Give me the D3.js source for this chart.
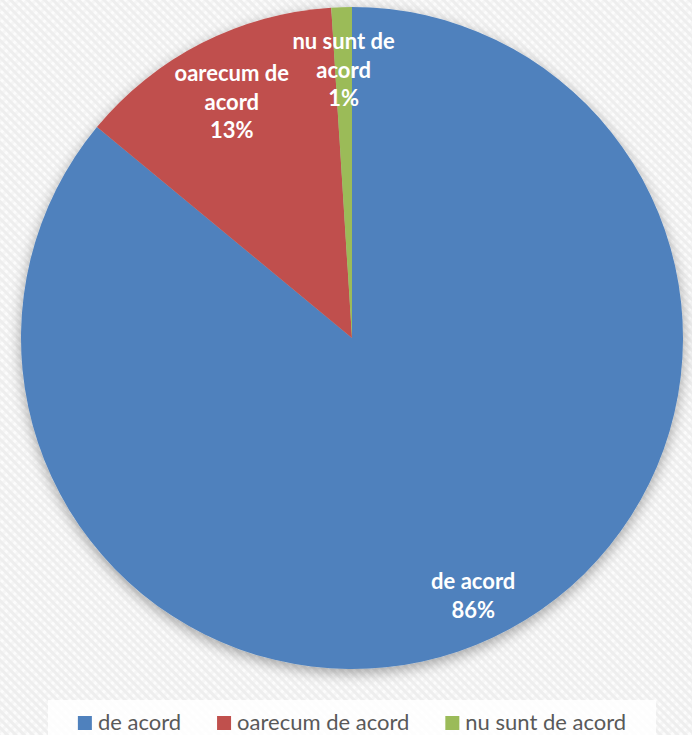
<!DOCTYPE html>
<html>
<head>
<meta charset="utf-8">
<script src="https://cdn.jsdelivr.net/npm/d3@7"></script>
<style>
  html, body { margin: 0; padding: 0; background: #f3f3f3; }
  svg { display: block; }
</style>
</head>
<body>
<svg id="chart" width="692" height="735"></svg>
<script>
// Survey answers and their shares (percent)
const categories = ["de acord", "oarecum de acord", "nu sunt de acord"];
const values = [86, 13, 1];
const colors = ["#4f81bd", "#c0504d", "#9bbb59"];
// Label lines drawn inside each slice
const labelLines = [["de acord"], ["oarecum de", "acord"], ["nu sunt de", "acord"]];
// Radial position of each slice label as a fraction of the radius
const labelRadius = [0.86, 0.8, 0.81];

const W = 692, H = 735;
const cx = 352, cy = 338, R = 331;

const svg = d3.select("#chart");
const defs = svg.append("defs");

// Diagonal woven background texture
const pat = defs.append("pattern")
  .attr("id", "bgTex")
  .attr("patternUnits", "userSpaceOnUse")
  .attr("width", 6).attr("height", 6)
  .attr("patternTransform", "rotate(-45)");
pat.append("rect").attr("width", 6).attr("height", 6).attr("fill", "#fcfcfc");
pat.append("rect").attr("width", 3).attr("height", 6).attr("fill", "#eeeeee");
pat.append("rect").attr("x", 3).attr("width", 3).attr("height", 3).attr("fill", "#f5f5f5");

// Soft drop shadow under the pie
const f = defs.append("filter").attr("id", "pieShadow")
  .attr("x", "-20%").attr("y", "-20%").attr("width", "140%").attr("height", "140%");
f.append("feGaussianBlur").attr("in", "SourceAlpha").attr("stdDeviation", 7).attr("result", "b");
f.append("feOffset").attr("in", "b").attr("dy", 4).attr("result", "o");
f.append("feComponentTransfer").attr("in", "o").attr("result", "s")
  .append("feFuncA").attr("type", "linear").attr("slope", 0.35);
const fm = f.append("feMerge");
fm.append("feMergeNode").attr("in", "s");
fm.append("feMergeNode").attr("in", "SourceGraphic");

svg.append("rect").attr("width", W).attr("height", H).attr("fill", "url(#bgTex)");

const data = categories.map((c, i) => ({ name: c, value: values[i], color: colors[i], i }));

const pie = d3.pie().value(d => d.value).sort(null);
const arcs = pie(data);
const arc = d3.arc().innerRadius(0).outerRadius(R);

const g = svg.append("g").attr("transform", `translate(${cx},${cy})`);
const slices = g.append("g").attr("filter", "url(#pieShadow)");
slices.selectAll("path")
  .data(arcs)
  .join("path")
  .attr("d", arc)
  .attr("fill", d => d.data.color);

// Slice labels: name lines plus percentage
const fmt = d3.format(".0f");
const lineH = 28.5;
arcs.forEach((a, i) => {
  const la = d3.arc().innerRadius(R * labelRadius[i]).outerRadius(R * labelRadius[i]);
  const [lx, ly] = la.centroid(a);
  const lines = labelLines[i].concat([fmt(a.data.value) + "%"]);
  const t = g.append("text")
    .attr("text-anchor", "middle")
    .attr("font-family", "Lato, 'Open Sans', sans-serif")
    .attr("font-weight", "bold")
    .attr("font-size", 22)
    .attr("fill", "#ffffff");
  const y0 = ly - (lines.length - 1) * lineH / 2;
  lines.forEach((ln, k) => {
    t.append("tspan")
      .attr("x", lx)
      .attr("y", y0 + k * lineH)
      .attr("dy", "0.35em")
      .text(ln);
  });
});

// Legend band
const legX0 = 48, legX1 = 656, legY = 700;
svg.append("rect")
  .attr("x", legX0).attr("y", legY)
  .attr("width", legX1 - legX0).attr("height", H - legY + 2)
  .attr("fill", "#ffffff").attr("opacity", 0.85);

const leg = svg.append("g");
const sq = 14, gapSq = 6, gapItem = 36;
const items = leg.selectAll("g.item").data(data).join("g").attr("class", "item");
items.append("rect")
  .attr("width", sq).attr("height", sq)
  .attr("y", 716)
  .attr("fill", d => d.color);
items.append("text")
  .attr("x", sq + gapSq)
  .attr("y", 730)
  .attr("font-family", "Lato, 'Open Sans', sans-serif")
  .attr("font-size", 22)
  .attr("fill", "#595959")
  .text(d => d.name);

let widths = [];
items.each(function() { widths.push(d3.select(this).select("text").node().getComputedTextLength()); });
const total = d3.sum(widths.map(w => sq + gapSq + w)) + gapItem * (widths.length - 1);
let xpos = (legX0 + legX1) / 2 - total / 2;
items.attr("transform", (d, i) => {
  const x = xpos;
  xpos += sq + gapSq + widths[i] + gapItem;
  return `translate(${x},0)`;
});
</script>
</body>
</html>
